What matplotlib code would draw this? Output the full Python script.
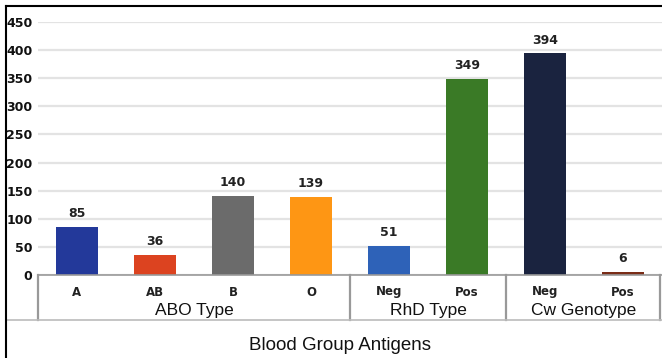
import matplotlib.pyplot as plt
from matplotlib.transforms import blended_transform_factory

# Blood group antigen counts
categories = ["A", "AB", "B", "O", "Neg", "Pos", "Neg", "Pos"]
counts = [85, 36, 140, 139, 51, 349, 394, 6]
colors = ["#23399a", "#dc4320", "#6b6b6b", "#fe9614",
          "#2e62b8", "#3a7a26", "#1a233f", "#7a2c17"]
groups = ["ABO Type", "RhD Type", "Cw Genotype"]
group_sizes = [4, 2, 2]

W, H = 662, 358
AX_LEFT, AX_RIGHT, AX_TOP, AX_BOTTOM = 38, 662, 22, 275
FONT = "Liberation Sans"


def ypx(px):
    # pixel row below axis bottom -> axes fraction
    return -(px - AX_BOTTOM) / (AX_BOTTOM - AX_TOP)


def main():
    fig = plt.figure(figsize=(W / 100, H / 100), dpi=100)
    ax = fig.add_axes([AX_LEFT / W, 1 - AX_BOTTOM / H,
                       (AX_RIGHT - AX_LEFT) / W, (AX_BOTTOM - AX_TOP) / H])

    x = list(range(len(categories)))
    bars = ax.bar(x, counts, width=0.55, color=colors, zorder=3)
    for b, v in zip(bars, counts):
        ax.annotate(str(v), (b.get_x() + b.get_width() / 2, v),
                    xytext=(0, 5), textcoords="offset points",
                    ha="center", va="bottom", fontsize=9,
                    fontweight="bold", color="#222222", family="DejaVu Sans")

    ax.set_xlim(-0.5, len(categories) - 0.5)
    ax.set_ylim(0, 450)
    ax.set_yticks(range(0, 451, 50))
    ax.grid(axis="y", color="#e3e3e3", linewidth=1.6, zorder=0)
    for s in ax.spines.values():
        s.set_visible(False)
    ax.set_xticks([])
    ax.tick_params(axis="y", length=0, pad=4)
    for lab in ax.get_yticklabels():
        lab.set_fontweight("bold")
        lab.set_fontsize(9)
        lab.set_family("DejaVu Sans")
        lab.set_color("#111111")

    trans = blended_transform_factory(ax.transData, ax.transAxes)
    ax.plot([-0.5, 7.5], [0, 0], transform=trans, color="#999999",
            lw=1.2, clip_on=False, zorder=4)

    # category labels
    for i, c in enumerate(categories):
        ax.text(i, ypx(292), c, transform=trans, ha="center", va="center",
                fontsize=8.5, fontweight="bold", color="#222222",
                family="DejaVu Sans")

    # group labels and separators
    start = 0
    seps = [-0.5]
    for g, n in zip(groups, group_sizes):
        mid = start + (n - 1) / 2
        ax.text(mid, ypx(311), g, transform=trans, ha="center", va="center",
                fontsize=12.5, family=FONT, color="#111111")
        start += n
        seps.append(start - 0.5)
    seps[-1] = 7.47
    for s in seps:
        ax.plot([s, s], [0, ypx(320)], transform=trans, color="#999999",
                lw=1.6, clip_on=False)

    # horizontal line under the axis block and outer border
    fig.add_artist(plt.Line2D([6 / W, 1], [1 - 320 / H] * 2,
                              color="#bbbbbb", lw=1.2))
    fig.add_artist(plt.Line2D([6 / W, 6 / W], [0, 1 - 6 / H],
                              color="black", lw=1.5))
    fig.add_artist(plt.Line2D([6 / W, 1], [1 - 6 / H] * 2,
                              color="black", lw=1.5))

    fig.text(340 / W, 1 - 345 / H, "Blood Group Antigens", ha="center",
             va="center", fontsize=13.5, family=FONT, color="#111111")

    fig.savefig("out.png", dpi=100)


if __name__ == "__main__":
    main()
